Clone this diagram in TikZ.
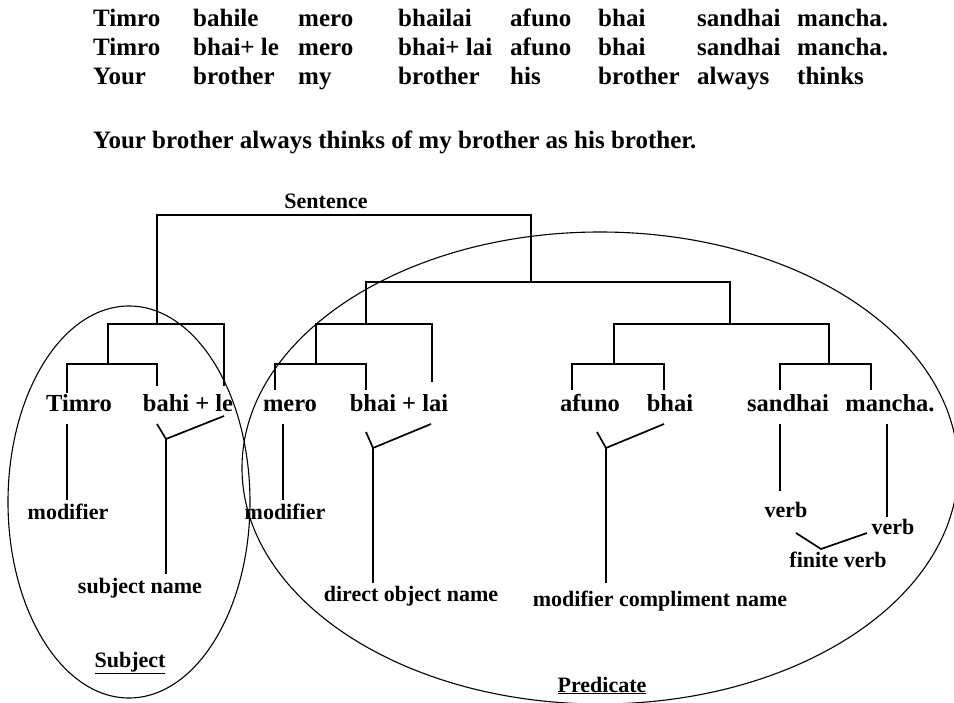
\documentclass[tikz,border=0pt]{standalone}
\usepackage{fontspec}
\setmainfont{Liberation Serif}
\begin{document}
\begin{tikzpicture}[x=1pt,y=-1pt,
  gloss/.style={font=\bfseries\fontsize{25}{30}\selectfont, anchor=base west, inner sep=0pt},
  word/.style={font=\bfseries\fontsize{24.5}{29}\selectfont, anchor=base, inner sep=0pt},
  role/.style={font=\bfseries\fontsize{22}{26}\selectfont, anchor=base, inner sep=0pt},
  branch/.style={line width=1.7pt, line join=miter},
  hull/.style={line width=1.1pt}]
\useasboundingbox (0,0) rectangle (954,703);

% interlinear gloss
\foreach \x/\w [count=\i] in {93/Timro, 193/bahile, 298/mero, 398/bhailai, 510/afuno, 598/bhai, 697/sandhai, 797/mancha.}
  \node[gloss] (ga\i) at (\x,27) {\w};
\foreach \x/\w [count=\i] in {93/Timro, 193/bhai+ le, 298/mero, 398/bhai+ lai, 510/afuno, 598/bhai, 697/sandhai, 797/mancha.}
  \node[gloss] (gb\i) at (\x,56) {\w};
\foreach \x/\w [count=\i] in {93/Your, 193/brother, 298/my, 398/brother, 510/his, 598/brother, 697/always, 797/thinks}
  \node[gloss] (gc\i) at (\x,85) {\w};
\node[gloss] (free) at (93,149) {Your brother always thinks of my brother as his brother.};

% groupings
\draw[hull] (129,502) ellipse [x radius=121pt, y radius=196pt];
\draw[hull] (600,468) ellipse [x radius=358pt, y radius=236pt];

% root label and words
\node[role] (sentence) at (326,209) {Sentence};
\node[word] (timro) at (79,412) {Timro};
\node[word] (bahile) at (188,412) {bahi + le};
\node[word] (mero) at (290,412) {mero};
\node[word] (bhailai) at (399,412) {bhai + lai};
\node[word] (afuno) at (590,412) {afuno};
\node[word] (bhai) at (670,412) {bhai};
\node[word] (sandhai) at (788,412) {sandhai};
\node[word] (mancha) at (890,412) {mancha.};

% bracket corners
\coordinate (top-l) at (157,215);  \coordinate (top-r) at (531,215);
\coordinate (subj-l) at (108,324); \coordinate (subj-r) at (224,324); \coordinate (subj-m) at (157,324);
\coordinate (sin-l) at (67,364);   \coordinate (sin-r) at (157,364);  \coordinate (sin-m) at (108,364);
\coordinate (timro-up) at (67,393); \coordinate (bahi-up) at (157,386); \coordinate (le-up) at (224,386);
\coordinate (pred-l) at (366,282); \coordinate (pred-r) at (730,282); \coordinate (pred-m) at (531,282);
\coordinate (obj-l) at (316,324);  \coordinate (obj-r) at (432,324);  \coordinate (obj-m) at (366,324);
\coordinate (oin-l) at (275,364);  \coordinate (oin-r) at (366,364);  \coordinate (oin-m) at (316,364);
\coordinate (mero-up) at (275,390); \coordinate (bhai1-up) at (366,390); \coordinate (lai-up) at (432,382);
\coordinate (vp-l) at (614,324);   \coordinate (vp-r) at (829,324);   \coordinate (vp-m) at (730,324);
\coordinate (cmp-l) at (572,364);  \coordinate (cmp-r) at (664,364);  \coordinate (cmp-m) at (614,364);
\coordinate (vb-l) at (780,364);   \coordinate (vb-r) at (871,364);   \coordinate (vb-m) at (829,364);
\coordinate (afuno-up) at (572,390); \coordinate (bhai2-up) at (664,390);
\coordinate (sandhai-up) at (780,390); \coordinate (mancha-up) at (871,390);

\draw[branch] (subj-m) -- (top-l) -- (top-r) -- (pred-m);
\draw[branch] (le-up) -- (subj-r) -- (subj-l) -- (sin-m);
\draw[branch] (timro-up) -- (sin-l) -- (sin-r) -- (bahi-up);
\draw[branch] (obj-m) -- (pred-l) -- (pred-r) -- (vp-m);
\draw[branch] (lai-up) -- (obj-r) -- (obj-l) -- (oin-m);
\draw[branch] (mero-up) -- (oin-l) -- (oin-r) -- (bhai1-up);
\draw[branch] (vb-m) -- (vp-r) -- (vp-l) -- (cmp-m);
\draw[branch] (afuno-up) -- (cmp-l) -- (cmp-r) -- (bhai2-up);
\draw[branch] (sandhai-up) -- (vb-l) -- (vb-r) -- (mancha-up);

% functions of the words
\node[role] (mod1) at (68,519) {modifier};
\node[role] (mod2) at (285,519) {modifier};
\node[role] (subjname) at (140,593) {subject name};
\node[role] (objname) at (411,601) {direct object name};
\node[role] (cmpname) at (660,606) {modifier compliment name};
\node[role] (verb1) at (786,518) {verb};
\node[role] (verb2) at (893,534) {verb};
\node[role] (finite) at (838,567) {finite verb};
\node[role] (subject) at (130,667) {\underline{Subject}};
\node[role] (predicate) at (602,692) {\underline{Predicate}};

\coordinate (timro-dn) at (67,424);   \coordinate (mod1-up) at (67,500);
\coordinate (bahi-dn) at (157,424);   \coordinate (le-dn) at (224,416);
\coordinate (sn-fork) at (166,439);   \coordinate (sn-end) at (166,574);
\coordinate (mero-dn) at (283,424);   \coordinate (mod2-up) at (283,500);
\coordinate (bhai1-dn) at (366,432);  \coordinate (lai-dn) at (431,424);
\coordinate (do-fork) at (373,448);   \coordinate (do-end) at (373,583);
\coordinate (afuno-dn) at (597,432);  \coordinate (bhai2-dn) at (664,424);
\coordinate (mc-fork) at (606,448);   \coordinate (mc-end) at (606,583);
\coordinate (sandhai-dn) at (780,424); \coordinate (verb1-up) at (780,491);
\coordinate (mancha-dn) at (887,424); \coordinate (verb2-up) at (887,517);
\coordinate (fv-l) at (796,533); \coordinate (fv-fork) at (821,549); \coordinate (fv-r) at (867,533);

\draw[branch] (timro-dn) -- (mod1-up);
\draw[branch] (bahi-dn) -- (sn-fork) -- (le-dn);
\draw[branch] (sn-fork) -- (sn-end);
\draw[branch] (mero-dn) -- (mod2-up);
\draw[branch] (bhai1-dn) -- (do-fork) -- (lai-dn);
\draw[branch] (do-fork) -- (do-end);
\draw[branch] (afuno-dn) -- (mc-fork) -- (bhai2-dn);
\draw[branch] (mc-fork) -- (mc-end);
\draw[branch] (sandhai-dn) -- (verb1-up);
\draw[branch] (mancha-dn) -- (verb2-up);
\draw[branch] (fv-l) -- (fv-fork) -- (fv-r);
\end{tikzpicture}
\end{document}
